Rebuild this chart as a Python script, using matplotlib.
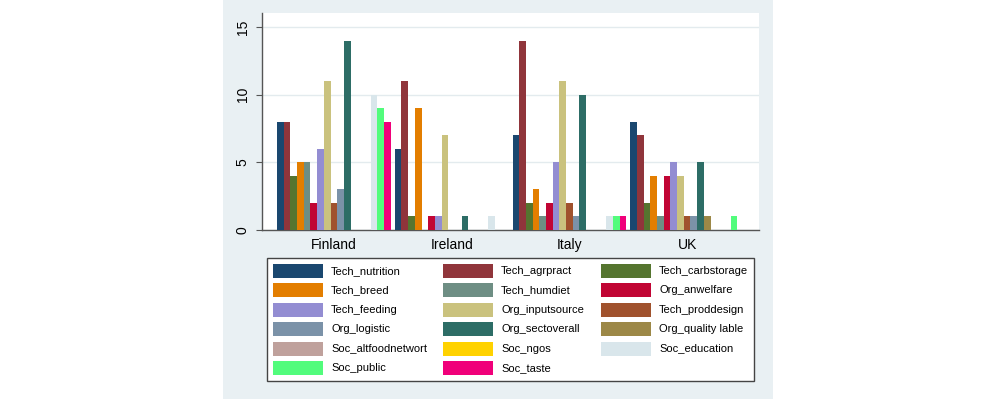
import matplotlib
matplotlib.use("Agg")
import matplotlib.pyplot as plt
from matplotlib.patches import Rectangle
import numpy as np

# data
countries = ["Finland", "Ireland", "Italy", "UK"]
series = ["Tech_nutrition", "Tech_agrpract", "Tech_carbstorage", "Tech_breed",
          "Tech_humdiet", "Org_anwelfare", "Tech_feeding", "Org_inputsource",
          "Tech_proddesign", "Org_logistic", "Org_sectoverall", "Org_quality lable",
          "Soc_altfoodnetwort", "Soc_ngos", "Soc_education", "Soc_public", "Soc_taste"]
finland = [8, 8, 4, 5, 5, 2, 6, 11, 2, 3, 14, 0, 0, 0, 10, 9, 8]
ireland = [6, 11, 1, 9, 0, 1, 1, 7, 0, 0, 1, 0, 0, 0, 1, 0, 0]
italy = [7, 14, 2, 3, 1, 2, 5, 11, 2, 1, 10, 0, 0, 0, 1, 1, 1]
uk = [8, 7, 2, 4, 1, 4, 5, 4, 1, 1, 5, 1, 0, 0, 0, 1, 0]
yticks = [0, 5, 10, 15]

colors = ["#1a476f", "#90353b", "#55752f", "#e37e00", "#6e8e84", "#c10534",
          "#938dd2", "#cac27e", "#a0522d", "#7b92a8", "#2d6d66", "#9c8847",
          "#bfa19c", "#ffd200", "#d9e6eb", "#52fc7c", "#f0007a"]

values = np.array([finland, ireland, italy, uk])
W, H = 996, 399
panel_bg = "#e9f0f3"

fig = plt.figure(figsize=(W / 100, H / 100), dpi=100)
fig.patches.append(Rectangle((223 / W, 0), 550 / W, 1, transform=fig.transFigure,
                             facecolor=panel_bg, edgecolor="none", zorder=-10))

ax = fig.add_axes([262 / W, 1 - 230 / H, 497 / W, 217 / H])
ax.set_zorder(5)
ax.set_facecolor("white")

step = 17.6
nser = len(series)
for j in range(nser):
    xs = np.arange(len(countries)) * step + j
    ax.bar(xs, values[:, j], width=1.0, align="edge", color=colors[j],
           edgecolor="none", zorder=3)

ax.set_xlim(-2.25, (len(countries) - 1) * step + nser + 2.25)
ax.set_ylim(0, 16.05)
ax.set_yticks(yticks)
ax.set_yticklabels([str(t) for t in yticks], rotation=90, va="center",
                   fontsize=10, family="Liberation Sans")
ax.set_xticks(np.arange(len(countries)) * step + nser / 2)
ax.set_xticklabels(countries, fontsize=10, family="Liberation Sans")
ax.tick_params(axis="x", length=0, pad=6)
ax.tick_params(axis="y", length=4, width=0.8, color="#555555", pad=5)
ax.grid(axis="y", color="#e3ebee", linewidth=1, zorder=0)
ax.set_axisbelow(True)
for s in ["top", "right"]:
    ax.spines[s].set_visible(False)
for s in ["left", "bottom"]:
    ax.spines[s].set_color("#555555")
    ax.spines[s].set_linewidth(1)

# legend drawn by hand so the column positions follow the reference
fig.patches.append(Rectangle((267 / W, 1 - 381 / H), 487 / W, 123 / H,
                             transform=fig.transFigure, facecolor="white",
                             edgecolor="#444444", linewidth=1, zorder=1))
col_x = [273, 443, 601]
row_y0, row_dy = 270.7, 19.45
for k, name in enumerate(series):
    r, c = divmod(k, 3)
    xc = col_x[c]
    yc = row_y0 + r * row_dy
    fig.patches.append(Rectangle((xc / W, 1 - (yc + 7) / H), 50 / W, 14 / H,
                                 transform=fig.transFigure, facecolor=colors[k],
                                 edgecolor="none", zorder=2))
    fig.text((xc + 58) / W, 1 - yc / H, name, fontsize=8, va="center",
             ha="left", family="Liberation Sans", zorder=3)

fig.savefig("out.png", dpi=100, facecolor="white")
